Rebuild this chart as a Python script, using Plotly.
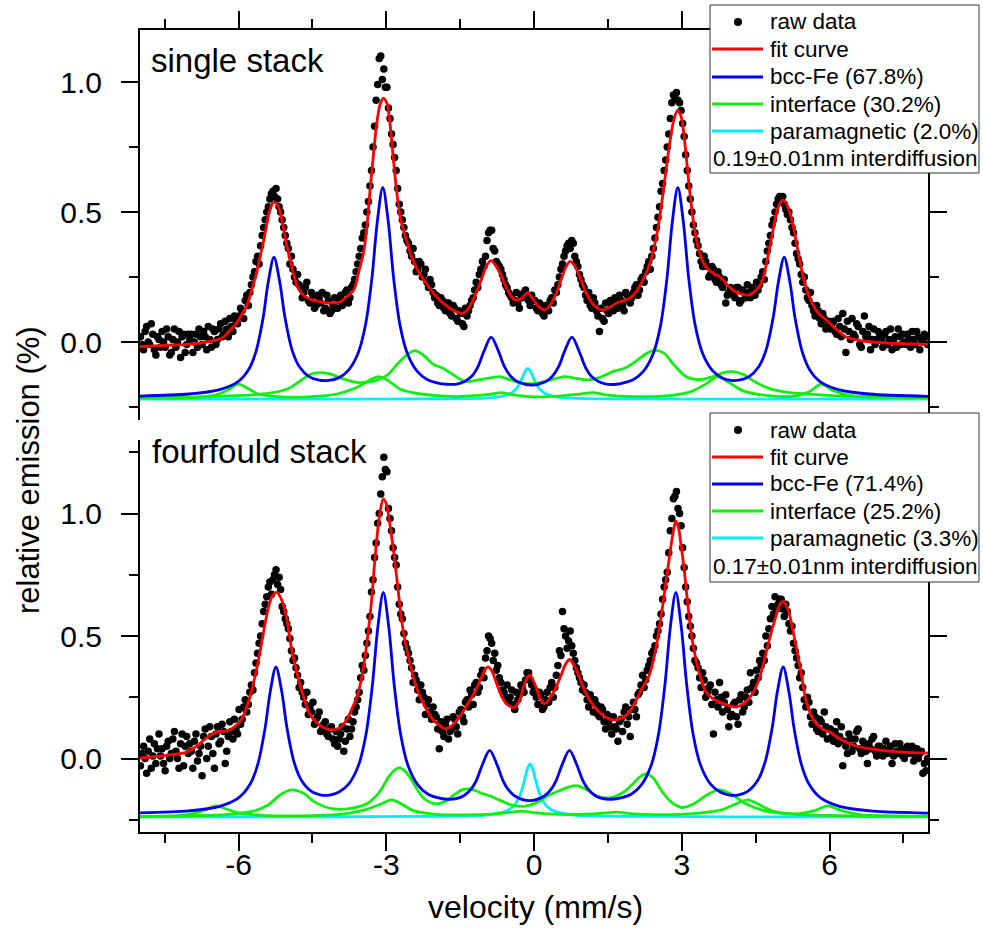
import numpy as np
import plotly.graph_objects as go

FONT = "Liberation Sans, Arial, sans-serif"

# ---------------- data ----------------
# velocity channels (equally spaced spectrometer channels)
n_channels = 512
velocity = np.linspace(-7.99, 7.99, n_channels)

raw_single = [
    0.02, -0.01, -0.03, 0.04, 0.06, 0.00, -0.01, 0.07, 0.03, -0.03, -0.05, 0.02, 0.01, -0.02, 0.04, 0.00,
    -0.02, 0.05, 0.02, -0.05, -0.04, 0.01, 0.05, -0.02, 0.00, 0.04, -0.06, 0.02, 0.03, -0.04, -0.01, 0.03,
    0.01, 0.03, -0.04, 0.00, 0.03, -0.02, 0.05, 0.02, -0.01, 0.04, 0.02, -0.03, 0.06, 0.01, -0.02, 0.05,
    0.04, -0.01, 0.01, 0.05, 0.07, 0.02, 0.03, 0.08, 0.05, 0.02, 0.09, 0.06, 0.04, 0.10, 0.08, 0.07,
    0.10, 0.13, 0.12, 0.09, 0.16, 0.18, 0.14, 0.19, 0.22, 0.25, 0.27, 0.31, 0.33, 0.30, 0.37, 0.41,
    0.44, 0.47, 0.50, 0.52, 0.55, 0.57, 0.58, 0.56, 0.59, 0.55, 0.52, 0.50, 0.47, 0.44, 0.41, 0.38,
    0.36, 0.30, 0.33, 0.28, 0.25, 0.23, 0.26, 0.22, 0.21, 0.17, 0.19, 0.21, 0.23, 0.16, 0.15, 0.19,
    0.18, 0.13, 0.14, 0.18, 0.17, 0.15, 0.19, 0.12, 0.13, 0.18, 0.16, 0.11, 0.12, 0.14, 0.17, 0.13,
    0.13, 0.16, 0.18, 0.14, 0.16, 0.19, 0.20, 0.15, 0.17, 0.21, 0.22, 0.24, 0.27, 0.30, 0.33, 0.36,
    0.40, 0.42, 0.45, 0.50, 0.54, 0.60, 0.66, 0.75, 0.83, 0.93, 0.99, 1.09, 1.10, 1.01, 1.05, 0.98,
    0.98, 0.90, 0.86, 0.80, 0.76, 0.71, 0.66, 0.59, 0.53, 0.50, 0.47, 0.44, 0.41, 0.39, 0.38, 0.35,
    0.33, 0.36, 0.31, 0.27, 0.28, 0.31, 0.30, 0.25, 0.26, 0.28, 0.23, 0.21, 0.24, 0.22, 0.19, 0.17,
    0.18, 0.15, 0.14, 0.17, 0.16, 0.13, 0.12, 0.15, 0.15, 0.11, 0.10, 0.14, 0.13, 0.09, 0.08, 0.12,
    0.11, 0.07, 0.06, 0.13, 0.10, 0.12, 0.14, 0.16, 0.17, 0.20, 0.23, 0.21, 0.26, 0.28, 0.31, 0.29,
    0.33, 0.39, 0.42, 0.43, 0.43, 0.36, 0.35, 0.31, 0.30, 0.29, 0.28, 0.26, 0.24, 0.22, 0.21, 0.19,
    0.18, 0.17, 0.15, 0.16, 0.19, 0.15, 0.13, 0.18, 0.17, 0.19, 0.20, 0.17, 0.16, 0.14, 0.18, 0.16,
    0.16, 0.13, 0.12, 0.15, 0.14, 0.11, 0.10, 0.14, 0.13, 0.12, 0.16, 0.17, 0.15, 0.20, 0.19, 0.22,
    0.25, 0.28, 0.30, 0.33, 0.35, 0.37, 0.38, 0.36, 0.39, 0.38, 0.33, 0.31, 0.29, 0.26, 0.24, 0.22,
    0.21, 0.18, 0.16, 0.19, 0.14, 0.13, 0.17, 0.15, 0.12, 0.10, 0.04, 0.13, 0.09, 0.08, 0.15, 0.12,
    0.11, 0.16, 0.14, 0.12, 0.17, 0.15, 0.13, 0.18, 0.16, 0.14, 0.12, 0.19, 0.18, 0.16, 0.15, 0.17,
    0.19, 0.21, 0.22, 0.18, 0.20, 0.24, 0.25, 0.23, 0.27, 0.29, 0.31, 0.28, 0.33, 0.36, 0.40, 0.44,
    0.48, 0.52, 0.58, 0.61, 0.66, 0.70, 0.75, 0.80, 0.86, 0.92, 0.95, 0.94, 0.96, 0.93, 0.92, 0.89,
    0.84, 0.79, 0.72, 0.66, 0.60, 0.55, 0.50, 0.45, 0.42, 0.39, 0.37, 0.34, 0.31, 0.29, 0.33, 0.31,
    0.29, 0.25, 0.26, 0.29, 0.28, 0.24, 0.23, 0.27, 0.25, 0.22, 0.21, 0.24, 0.15, 0.18, 0.19, 0.21,
    0.20, 0.18, 0.17, 0.21, 0.21, 0.15, 0.16, 0.20, 0.19, 0.17, 0.22, 0.19, 0.17, 0.21, 0.20, 0.18,
    0.23, 0.20, 0.22, 0.25, 0.27, 0.24, 0.31, 0.35, 0.38, 0.41, 0.45, 0.47, 0.50, 0.53, 0.55, 0.56,
    0.55, 0.56, 0.53, 0.51, 0.49, 0.50, 0.47, 0.44, 0.42, 0.38, 0.34, 0.32, 0.30, 0.26, 0.23, 0.25,
    0.20, 0.17, 0.16, 0.19, 0.14, 0.12, 0.10, 0.14, 0.12, 0.09, 0.07, 0.11, 0.09, 0.05, 0.06, 0.08,
    0.05, 0.07, 0.08, 0.04, 0.03, 0.09, 0.06, 0.02, 0.11, 0.05, -0.04, 0.08, 0.04, 0.01, 0.09, 0.03,
    0.02, 0.07, 0.06, -0.01, -0.02, 0.04, 0.10, 0.02, 0.03, 0.06, -0.03, 0.01, 0.05, -0.01, 0.01, 0.04,
    0.03, 0.01, -0.02, 0.03, 0.04, -0.01, 0.01, 0.05, -0.03, 0.00, 0.02, -0.02, 0.05, 0.02, -0.01, 0.03,
    0.00, -0.01, 0.03, 0.01, -0.02, 0.04, 0.01, -0.01, 0.04, 0.02, -0.03, 0.01, 0.00, 0.03, 0.02, -0.01,
]

raw_four = [
    -0.03, 0.02, 0.05, 0.00, -0.06, 0.03, 0.08, -0.04, 0.01, 0.06, -0.02, 0.04, 0.10, 0.01, 0.04, -0.02,
    -0.05, 0.05, 0.07, 0.00, 0.02, 0.08, 0.11, 0.03, 0.00, -0.04, 0.06, 0.10, -0.03, 0.05, 0.09, 0.02,
    0.06, 0.03, -0.04, 0.07, 0.10, -0.01, 0.02, 0.05, -0.07, 0.09, 0.12, 0.00, 0.05, 0.13, 0.09, 0.02,
    -0.04, 0.10, 0.13, 0.06, 0.07, 0.14, 0.11, -0.02, 0.03, 0.09, 0.15, 0.11, 0.08, 0.16, 0.12, 0.10,
    0.20, 0.14, 0.16, 0.21, 0.24, 0.19, 0.22, 0.27, 0.30, 0.28, 0.35, 0.39, 0.43, 0.47, 0.50, 0.55,
    0.60, 0.63, 0.66, 0.70, 0.72, 0.67, 0.73, 0.75, 0.77, 0.71, 0.74, 0.69, 0.62, 0.60, 0.57, 0.55,
    0.53, 0.49, 0.44, 0.40, 0.41, 0.37, 0.34, 0.29, 0.31, 0.27, 0.25, 0.22, 0.27, 0.18, 0.21, 0.19,
    0.23, 0.14, 0.16, 0.17, 0.19, 0.11, 0.12, 0.14, 0.15, 0.10, 0.09, 0.12, 0.13, 0.08, 0.06, 0.11,
    0.05, 0.08, 0.10, 0.13, 0.03, 0.07, 0.12, 0.16, 0.09, 0.12, 0.15, 0.19, 0.21, 0.24, 0.27, 0.33,
    0.38, 0.36, 0.42, 0.47, 0.52, 0.58, 0.68, 0.73, 0.82, 0.88, 0.96, 1.00, 1.08, 1.15, 1.23, 1.18,
    1.17, 1.02, 0.98, 0.93, 0.86, 0.82, 0.79, 0.70, 0.63, 0.59, 0.57, 0.51, 0.47, 0.45, 0.43, 0.40,
    0.37, 0.31, 0.34, 0.32, 0.28, 0.24, 0.30, 0.27, 0.25, 0.18, 0.22, 0.24, 0.19, 0.16, 0.21, 0.18,
    0.17, 0.12, 0.04, 0.15, 0.11, 0.09, 0.14, 0.16, 0.08, 0.11, 0.12, 0.17, 0.16, 0.13, 0.10, 0.19,
    0.20, 0.17, 0.15, 0.23, 0.24, 0.21, 0.28, 0.26, 0.22, 0.30, 0.31, 0.27, 0.29, 0.34, 0.36, 0.33,
    0.41, 0.44, 0.50, 0.49, 0.47, 0.40, 0.43, 0.36, 0.38, 0.33, 0.31, 0.28, 0.27, 0.25, 0.30, 0.23,
    0.25, 0.28, 0.22, 0.20, 0.27, 0.24, 0.26, 0.30, 0.29, 0.27, 0.32, 0.35, 0.35, 0.32, 0.30, 0.27,
    0.28, 0.25, 0.22, 0.27, 0.26, 0.20, 0.21, 0.24, 0.27, 0.23, 0.29, 0.31, 0.25, 0.29, 0.34, 0.38,
    0.44, 0.42, 0.60, 0.53, 0.50, 0.45, 0.48, 0.52, 0.46, 0.43, 0.40, 0.37, 0.35, 0.33, 0.31, 0.28,
    0.30, 0.27, 0.24, 0.21, 0.26, 0.23, 0.19, 0.24, 0.22, 0.18, 0.17, 0.21, 0.20, 0.15, 0.12, 0.18,
    0.15, 0.13, 0.10, 0.17, 0.13, 0.12, 0.07, 0.15, 0.16, 0.11, 0.19, 0.21, 0.14, 0.17, 0.09, 0.20,
    0.23, 0.20, 0.17, 0.26, 0.27, 0.30, 0.34, 0.29, 0.32, 0.36, 0.38, 0.40, 0.43, 0.44, 0.46, 0.50,
    0.52, 0.55, 0.59, 0.65, 0.70, 0.73, 0.76, 0.84, 0.93, 0.98, 1.06, 1.07, 1.09, 1.02, 1.00, 0.95,
    0.86, 0.78, 0.70, 0.64, 0.58, 0.54, 0.50, 0.45, 0.40, 0.39, 0.37, 0.33, 0.29, 0.35, 0.32, 0.25,
    0.27, 0.29, 0.30, 0.22, 0.10, 0.27, 0.24, 0.21, 0.31, 0.25, 0.19, 0.23, 0.26, 0.20, 0.13, 0.17,
    0.18, 0.22, 0.23, 0.17, 0.14, 0.24, 0.26, 0.19, 0.21, 0.25, 0.28, 0.23, 0.35, 0.29, 0.31, 0.27,
    0.36, 0.33, 0.40, 0.38, 0.43, 0.40, 0.50, 0.46, 0.53, 0.57, 0.62, 0.59, 0.66, 0.61, 0.63, 0.65,
    0.65, 0.61, 0.58, 0.63, 0.60, 0.55, 0.52, 0.54, 0.47, 0.44, 0.41, 0.38, 0.33, 0.35, 0.29, 0.24,
    0.21, 0.25, 0.23, 0.17, 0.14, 0.19, 0.17, 0.12, 0.11, 0.16, 0.15, 0.10, 0.19, 0.13, 0.08, 0.12,
    0.12, 0.09, 0.07, 0.11, 0.15, 0.06, 0.09, 0.13, -0.03, 0.07, 0.05, 0.02, 0.10, 0.08, 0.03, 0.05,
    0.08, 0.11, 0.12, 0.04, 0.02, 0.07, 0.06, 0.03, -0.02, 0.06, 0.04, 0.08, 0.09, 0.03, 0.01, 0.05,
    0.05, 0.03, 0.01, 0.04, 0.07, 0.02, 0.03, 0.05, -0.02, 0.01, 0.06, 0.03, 0.02, 0.06, 0.04, 0.01,
    0.00, 0.03, 0.05, 0.02, 0.03, 0.05, -0.01, 0.01, 0.04, 0.00, 0.02, 0.03, -0.06, -0.02, -0.05, 0.00,
]

# --- single stack: fit curve
fit_single_x = [-8.0, -7.5, -7.0, -6.7, -6.5, -6.3, -6.17, -6.05, -5.95, -5.83, -5.7, -5.63, -5.56, -5.49, -5.43,
                -5.36, -5.29, -5.22, -5.15, -5.08, -5.02, -4.95, -4.88, -4.81, -4.71, -4.61, -4.48, -4.34, -4.15,
                -3.93, -3.8, -3.66, -3.56, -3.46, -3.39, -3.33, -3.27, -3.2, -3.13, -3.06, -2.99, -2.93, -2.86,
                -2.8, -2.73, -2.66, -2.59, -2.46, -2.33, -2.19, -2.05, -1.92, -1.78, -1.65, -1.52, -1.42, -1.33,
                -1.24, -1.14, -1.04, -0.96, -0.87, -0.79, -0.7, -0.6, -0.5, -0.4, -0.29, -0.2, -0.125, -0.05,
                0.02, 0.1, 0.21, 0.32, 0.45, 0.55, 0.64, 0.73, 0.82, 0.9, 0.98, 1.06, 1.2, 1.32, 1.42, 1.55,
                1.67, 1.8, 1.94, 2.08, 2.21, 2.33, 2.42, 2.5, 2.59, 2.68, 2.76, 2.84, 2.92, 2.99, 3.06, 3.15,
                3.24, 3.33, 3.45, 3.56, 3.66, 3.76, 3.9, 4.03, 4.2, 4.37, 4.5, 4.58, 4.64, 4.74, 4.84, 4.93,
                5.0, 5.05, 5.12, 5.18, 5.25, 5.33, 5.42, 5.5, 5.59, 5.7, 5.8, 5.93, 6.1, 6.33, 6.55, 6.8, 7.1,
                7.48, 8.0]
fit_single_y = [-0.018, -0.013, -0.008, -0.002, 0.005, 0.02, 0.046, 0.07, 0.1, 0.14, 0.22, 0.27, 0.33, 0.39, 0.45,
                0.51, 0.537, 0.53, 0.495, 0.43, 0.37, 0.315, 0.26, 0.215, 0.185, 0.17, 0.16, 0.155, 0.15,
                0.155, 0.175, 0.2, 0.27, 0.345, 0.45, 0.58, 0.7, 0.83, 0.91, 0.937, 0.92, 0.85, 0.713,
                0.6, 0.495, 0.435, 0.39, 0.315, 0.265, 0.226, 0.19, 0.162, 0.14, 0.123, 0.112, 0.112, 0.13,
                0.16, 0.205, 0.255, 0.295, 0.313, 0.298, 0.27, 0.225, 0.187, 0.163, 0.163, 0.178, 0.19, 0.172,
                0.155, 0.135, 0.123, 0.14, 0.187, 0.24, 0.285, 0.31, 0.295, 0.265, 0.225, 0.187, 0.145, 0.126,
                0.124, 0.135, 0.149, 0.158, 0.168, 0.195, 0.238, 0.29, 0.35, 0.42, 0.53, 0.66, 0.77, 0.855,
                0.892, 0.865, 0.77, 0.6, 0.46, 0.365, 0.3, 0.275, 0.262, 0.252, 0.225, 0.2, 0.185, 0.181,
                0.198, 0.215, 0.238, 0.32, 0.418, 0.5, 0.535, 0.546, 0.535, 0.505, 0.46, 0.38, 0.29, 0.225,
                0.174, 0.13, 0.105, 0.085, 0.055, 0.02, 0.008, 0.001, -0.003, -0.006, -0.009]

# --- single stack: bcc-Fe sextet
bcc_single_x = [-8.0, -7.0, -6.4, -6.0, -5.8, -5.65, -5.5, -5.4, -5.28, -5.16, -5.06, -4.91, -4.76, -4.56, -4.36,
                -4.17, -3.97, -3.77, -3.57, -3.42, -3.29, -3.18, -3.07, -2.96, -2.85, -2.72, -2.57, -2.37, -2.17,
                -1.97, -1.77, -1.57, -1.42, -1.27, -1.14, -1.02, -0.87, -0.72, -0.6, -0.47, -0.32, -0.05, 0.22,
                0.37, 0.5, 0.62, 0.77, 0.92, 1.04, 1.17, 1.32, 1.47, 1.67, 1.82, 2.02, 2.22, 2.42, 2.57, 2.7,
                2.81, 2.92, 3.03, 3.14, 3.27, 3.42, 3.62, 3.82, 4.0, 4.16, 4.36, 4.56, 4.71, 4.86, 4.96, 5.08,
                5.2, 5.3, 5.45, 5.6, 5.8, 6.2, 6.8, 8.0]
bcc_single_y = [-0.208, -0.2, -0.184, -0.151, -0.108, -0.04, 0.093, 0.226, 0.326, 0.228, 0.098, -0.032, -0.096,
                -0.134, -0.147, -0.148, -0.138, -0.109, -0.042, 0.067, 0.247, 0.466, 0.595, 0.464, 0.245, 0.064,
                -0.045, -0.113, -0.144, -0.157, -0.1625, -0.162, -0.153, -0.133, -0.0955, -0.0375, 0.019, -0.036,
                -0.095, -0.1325, -0.154, -0.1655, -0.154, -0.1325, -0.095, -0.036, 0.019, -0.0375, -0.0955,
                -0.133, -0.153, -0.162, -0.1625, -0.157, -0.144, -0.113, -0.045, 0.064, 0.245, 0.464, 0.595,
                0.466, 0.247, 0.067, -0.042, -0.109, -0.138, -0.148, -0.147, -0.134, -0.096, -0.032, 0.098,
                0.228, 0.326, 0.226, 0.093, -0.04, -0.108, -0.151, -0.184, -0.2, -0.209]

# --- single stack: interface components (two sub-spectra)
ifa_single_x = [-8.0, -7.0, -6.3, -5.7, -5.3, -5.0, -4.75, -4.55, -4.35, -4.15, -3.9, -3.6, -3.3, -3.0, -2.75,
                -2.55, -2.42, -2.25, -2.05, -1.85, -1.65, -1.4, -1.1, -0.85, -0.7, -0.5, -0.25, 0.0, 0.3, 0.62,
                0.85, 1.1, 1.35, 1.6, 1.85, 2.1, 2.3, 2.48, 2.65, 2.85, 3.1, 3.35, 3.6, 3.85, 4.03, 4.25, 4.5,
                4.8, 5.2, 5.8, 6.5, 7.3, 8.0]
ifa_single_y = [-0.214, -0.212, -0.208, -0.203, -0.195, -0.18, -0.15, -0.125, -0.118, -0.123, -0.14, -0.155,
                -0.152, -0.13, -0.08, -0.045, -0.033, -0.05, -0.085, -0.101, -0.125, -0.152, -0.145, -0.137,
                -0.133, -0.145, -0.158, -0.16, -0.148, -0.133, -0.14, -0.146, -0.135, -0.114, -0.1, -0.07,
                -0.042, -0.032, -0.045, -0.09, -0.135, -0.145, -0.135, -0.118, -0.114, -0.125, -0.155, -0.18,
                -0.195, -0.203, -0.209, -0.212, -0.214]
ifb_single_x = [-8.0, -6.8, -6.4, -6.2, -6.01, -5.8, -5.6, -5.2, -4.5, -4.0, -3.6, -3.35, -3.15, -2.95, -2.7,
                -2.3, -1.6, -1.1, -0.85, -0.67, -0.45, -0.1, 0.5, 0.95, 1.19, 1.45, 2.0, 2.8, 3.2, 3.5, 3.73,
                3.95, 4.25, 4.7, 5.3, 5.6, 5.83, 6.05, 6.4, 7.0, 8.0]
ifb_single_y = [-0.216, -0.212, -0.2, -0.183, -0.162, -0.18, -0.2, -0.21, -0.21, -0.2, -0.175, -0.148, -0.133,
                -0.15, -0.183, -0.2, -0.21, -0.205, -0.2, -0.195, -0.202, -0.21, -0.208, -0.2, -0.195, -0.203,
                -0.21, -0.205, -0.19, -0.16, -0.133, -0.155, -0.188, -0.205, -0.208, -0.19, -0.162, -0.185,
                -0.205, -0.212, -0.215]

# --- single stack: paramagnetic singlet
para_single_x = [-8.0, -4.125, -2.125, -1.325, -0.925, -0.625, -0.475, -0.375, -0.3, -0.225, -0.175, -0.125,
                 -0.075, -0.025, 0.05, 0.125, 0.225, 0.375, 0.675, 1.075, 1.875, 3.875, 8.0]
para_single_y = [-0.22, -0.22, -0.219, -0.218, -0.215, -0.208, -0.198, -0.183, -0.163, -0.132, -0.111, -0.102,
                 -0.111, -0.132, -0.163, -0.183, -0.198, -0.208, -0.215, -0.218, -0.219, -0.22, -0.22]

# --- fourfold stack: fit curve
fit_four_x = [-8.0, -7.5, -7.05, -6.85, -6.71, -6.55, -6.44, -6.3, -6.17, -6.05, -5.97, -5.87, -5.77, -5.67,
              -5.57, -5.48, -5.4, -5.31, -5.22, -5.14, -5.06, -4.99, -4.93, -4.85, -4.76, -4.66, -4.56, -4.43,
              -4.29, -4.08, -3.95, -3.81, -3.68, -3.6, -3.54, -3.45, -3.37, -3.3, -3.24, -3.18, -3.13, -3.06,
              -3.0, -2.93, -2.88, -2.83, -2.76, -2.69, -2.61, -2.52, -2.42, -2.31, -2.17, -2.04, -1.92, -1.81,
              -1.69, -1.57, -1.43, -1.3, -1.18, -1.07, -0.99, -0.93, -0.85, -0.76, -0.66, -0.56, -0.45, -0.37,
              -0.29, -0.2, -0.12, -0.08, -0.02, 0.04, 0.12, 0.21, 0.3, 0.38, 0.45, 0.55, 0.64, 0.72, 0.8, 0.92,
              1.02, 1.13, 1.27, 1.4, 1.55, 1.67, 1.8, 1.94, 2.08, 2.21, 2.32, 2.41, 2.51, 2.61, 2.7, 2.78,
              2.84, 2.88, 2.93, 2.98, 3.05, 3.12, 3.2, 3.29, 3.39, 3.49, 3.62, 3.76, 3.93, 4.1, 4.28, 4.44,
              4.58, 4.71, 4.81, 4.91, 4.98, 5.05, 5.12, 5.18, 5.26, 5.35, 5.44, 5.52, 5.62, 5.73, 5.86, 6.0,
              6.15, 6.33, 6.55, 6.8, 7.1, 7.48, 8.0]
fit_four_y = [0.002, 0.012, 0.026, 0.05, 0.074, 0.098, 0.108, 0.112, 0.117, 0.135, 0.15, 0.19, 0.251, 0.33,
              0.429, 0.53, 0.61, 0.665, 0.678, 0.655, 0.607, 0.535, 0.456, 0.38, 0.306, 0.24, 0.183, 0.15,
              0.128, 0.117, 0.125, 0.156, 0.21, 0.25, 0.292, 0.39, 0.511, 0.64, 0.79, 0.92, 1.0, 1.06,
              1.04, 0.96, 0.89, 0.811, 0.69, 0.566, 0.47, 0.388, 0.31, 0.251, 0.195, 0.156, 0.135, 0.122,
              0.13, 0.156, 0.195, 0.238, 0.28, 0.33, 0.365, 0.374, 0.355, 0.306, 0.255, 0.224, 0.21, 0.212,
              0.238, 0.3, 0.335, 0.34, 0.32, 0.292, 0.245, 0.224, 0.24, 0.265, 0.292, 0.34, 0.385, 0.404,
              0.385, 0.333, 0.28, 0.238, 0.2, 0.176, 0.16, 0.158, 0.167, 0.19, 0.24, 0.292, 0.33, 0.388,
              0.49, 0.62, 0.75, 0.866, 0.94, 0.969, 0.945, 0.88, 0.77, 0.634, 0.5, 0.402, 0.325, 0.272,
              0.245, 0.231, 0.218, 0.21, 0.228, 0.265, 0.33, 0.429, 0.51, 0.579, 0.625, 0.641, 0.625, 0.593,
              0.52, 0.429, 0.33, 0.238, 0.18, 0.142, 0.12, 0.108, 0.088, 0.067, 0.05, 0.04, 0.032, 0.026,
              0.022]

# --- fourfold stack: bcc-Fe sextet
bcc_four_x = [-8.0, -7.0, -6.4, -6.0, -5.76, -5.61, -5.46, -5.36, -5.24, -5.12, -5.02, -4.87, -4.72, -4.52, -4.32,
              -4.15, -3.96, -3.76, -3.56, -3.41, -3.28, -3.17, -3.06, -2.95, -2.84, -2.71, -2.56, -2.36, -2.16,
              -1.96, -1.76, -1.56, -1.41, -1.27, -1.17, -1.05, -0.9, -0.75, -0.63, -0.53, -0.39, -0.09, 0.21,
              0.35, 0.45, 0.57, 0.72, 0.87, 0.99, 1.09, 1.23, 1.38, 1.58, 1.78, 1.98, 2.18, 2.38, 2.53, 2.66,
              2.77, 2.88, 2.99, 3.1, 3.23, 3.38, 3.58, 3.78, 3.97, 4.14, 4.34, 4.54, 4.69, 4.84, 4.94, 5.06,
              5.18, 5.28, 5.43, 5.58, 5.82, 6.22, 6.82, 7.82, 8.0]
bcc_four_y = [-0.222, -0.2136, -0.1965, -0.161, -0.103, -0.025, 0.124, 0.2675, 0.3735, 0.271, 0.13, -0.016, -0.09,
              -0.134, -0.149, -0.1494, -0.137, -0.1035, -0.026, 0.1, 0.302, 0.537, 0.678, 0.539, 0.3035, 0.101,
              -0.0275, -0.108, -0.145, -0.16, -0.1664, -0.163, -0.15, -0.123, -0.089, -0.0265, 0.033, -0.026,
              -0.09, -0.125, -0.153, -0.172, -0.153, -0.125, -0.09, -0.026, 0.033, -0.0265, -0.089, -0.123,
              -0.15, -0.163, -0.1664, -0.16, -0.145, -0.108, -0.0275, 0.101, 0.3035, 0.539, 0.678, 0.537, 0.302,
              0.1, -0.026, -0.1035, -0.137, -0.1494, -0.149, -0.134, -0.09, -0.016, 0.13, 0.271, 0.3735, 0.2675,
              0.124, -0.025, -0.103, -0.161, -0.1965, -0.2136, -0.222, -0.223]

# --- fourfold stack: interface components
ifa_four_x = [-8.0, -7.0, -6.2, -5.7, -5.4, -5.15, -4.93, -4.7, -4.45, -4.1, -3.75, -3.4, -3.15, -2.95, -2.82,
              -2.73, -2.6, -2.45, -2.25, -2.0, -1.8, -1.6, -1.45, -1.34, -1.2, -1.05, -0.9, -0.7, -0.45, -0.2,
              0.05, 0.3, 0.52, 0.7, 0.86, 1.05, 1.3, 1.55, 1.8, 2.0, 2.15, 2.28, 2.42, 2.6, 2.8, 3.02, 3.25,
              3.5, 3.76, 4.0, 4.3, 4.7, 5.3, 6.2, 8.0]
ifa_four_y = [-0.236, -0.234, -0.228, -0.215, -0.19, -0.148, -0.128, -0.14, -0.178, -0.205, -0.205, -0.185,
              -0.14, -0.075, -0.045, -0.038, -0.055, -0.1, -0.16, -0.185, -0.175, -0.145, -0.127, -0.124, -0.13,
              -0.143, -0.152, -0.17, -0.19, -0.195, -0.18, -0.15, -0.131, -0.117, -0.111, -0.125, -0.155, -0.16,
              -0.14, -0.105, -0.075, -0.063, -0.08, -0.135, -0.18, -0.2, -0.185, -0.15, -0.128, -0.145, -0.185,
              -0.215, -0.228, -0.233, -0.236]
ifb_four_x = [-8.0, -7.2, -6.85, -6.65, -6.45, -6.25, -6.0, -5.5, -4.5, -3.8, -3.4, -3.1, -2.89, -2.7, -2.45,
              -2.0, -1.4, -0.8, -0.5, -0.25, 0.0, 0.5, 1.2, 1.45, 1.7, 1.95, 2.5, 3.3, 3.8, 4.1, 4.34, 4.55,
              4.85, 5.3, 5.7, 5.96, 6.2, 6.6, 7.3, 8.0]
ifb_four_y = [-0.237, -0.232, -0.222, -0.207, -0.193, -0.206, -0.222, -0.232, -0.233, -0.225, -0.208, -0.185,
              -0.169, -0.185, -0.213, -0.228, -0.23, -0.226, -0.22, -0.215, -0.221, -0.228, -0.226, -0.222,
              -0.219, -0.225, -0.229, -0.224, -0.21, -0.185, -0.169, -0.186, -0.215, -0.226, -0.213, -0.193,
              -0.21, -0.229, -0.234, -0.236]

# --- fourfold stack: paramagnetic singlet
para_four_x = [-8.0, -4.08, -2.08, -1.28, -0.88, -0.58, -0.43, -0.33, -0.255, -0.18, -0.13, -0.08, -0.03, 0.02,
               0.095, 0.17, 0.27, 0.42, 0.72, 1.12, 1.92, 3.92, 8.0]
para_four_y = [-0.238, -0.238, -0.236, -0.234, -0.229, -0.216, -0.197, -0.17, -0.133, -0.078, -0.039, -0.022,
               -0.039, -0.078, -0.133, -0.17, -0.197, -0.216, -0.229, -0.234, -0.236, -0.238, -0.238]

x_major = [-6, -3, 0, 3, 6]
x_minor = [-7.5, -4.5, -1.5, 1.5, 4.5, 7.5]
y_major = [0.0, 0.5, 1.0]
y_major_text = ["0.0", "0.5", "1.0"]
y_minor_single = [-0.25, 0.25, 0.75]
y_minor_four = [-0.25, 0.25, 0.75, 1.25]

labels_single = ["raw data", "fit curve", "bcc-Fe (67.8%)", "interface (30.2%)", "paramagnetic (2.0%)"]
labels_four = ["raw data", "fit curve", "bcc-Fe (71.4%)", "interface (25.2%)", "paramagnetic (3.3%)"]
note_single = "0.19±0.01nm interdiffusion"
note_four = "0.17±0.01nm interdiffusion"

# ---------------- styles ----------------
C_RED = "#ff0000"
C_BLUE = "#0000ee"
C_GREEN = "#11ee11"
C_CYAN = "#00eeff"
LW = 2.8
SM = 0.9

fig = go.Figure()


def add_panel(xa, ya, labels, raw, fx, fy, bx, by, ax_, ay_, bx2, by2, px, py):
    common = dict(xaxis=xa, yaxis=ya, showlegend=False)
    fig.add_trace(go.Scatter(x=px, y=py, mode="lines", name=labels[4],
                             line=dict(color=C_CYAN, width=LW, shape="spline", smoothing=SM), **common))
    fig.add_trace(go.Scatter(x=bx2, y=by2, mode="lines", name=labels[3],
                             line=dict(color=C_GREEN, width=LW, shape="spline", smoothing=SM), **common))
    fig.add_trace(go.Scatter(x=ax_, y=ay_, mode="lines", name=labels[3],
                             line=dict(color=C_GREEN, width=LW, shape="spline", smoothing=SM), **common))
    fig.add_trace(go.Scatter(x=bx, y=by, mode="lines", name=labels[2],
                             line=dict(color=C_BLUE, width=LW, shape="spline", smoothing=SM), **common))
    fig.add_trace(go.Scatter(x=velocity, y=raw, mode="markers", name=labels[0],
                             marker=dict(color="black", size=7.5, line=dict(width=0)), **common))
    fig.add_trace(go.Scatter(x=fx, y=fy, mode="lines", name=labels[1],
                             line=dict(color=C_RED, width=LW, shape="spline", smoothing=SM), **common))


add_panel("x", "y", labels_single, raw_single, fit_single_x, fit_single_y,
          bcc_single_x, bcc_single_y, ifa_single_x, ifa_single_y, ifb_single_x, ifb_single_y,
          para_single_x, para_single_y)
add_panel("x2", "y2", labels_four, raw_four, fit_four_x, fit_four_y,
          bcc_four_x, bcc_four_y, ifa_four_x, ifa_four_y, ifb_four_x, ifb_four_y,
          para_four_x, para_four_y)

W, H = 983, 947
L, R, T, B = 140, 55, 30, 115
plot_h = H - T - B


def py2paper(py):
    return (H - B - py) / plot_h


def px2paper(px):
    return (px - L) / (W - L - R)


tickfont = dict(family=FONT, size=30, color="black")
ax_common = dict(showline=True, linecolor="black", linewidth=2, ticks="outside", ticklen=17, tickwidth=2,
                 tickcolor="black", showgrid=False, zeroline=False, tickfont=tickfont)
minor_common = dict(ticks="outside", ticklen=9, tickwidth=2, tickcolor="black", showgrid=False)

fig.update_layout(
    width=W, height=H,
    margin=dict(l=L, r=R, t=T, b=B, autoexpand=False),
    paper_bgcolor="white", plot_bgcolor="white",
    font=dict(family=FONT, color="black"),
    showlegend=False,
    xaxis=dict(ax_common, range=[-8, 8], domain=[0, 1], anchor="y", side="top", tickvals=x_major,
               showticklabels=False, minor=dict(minor_common, tickvals=x_minor)),
    xaxis2=dict(ax_common, range=[-8, 8], domain=[0, 1], anchor="y2", side="bottom", tickvals=x_major,
                ticktext=[str(v) for v in x_major], ticklabelstandoff=-12,
                minor=dict(minor_common, tickvals=x_minor)),
    yaxis=dict(ax_common, range=[-0.3, 1.2], domain=[py2paper(420), 1.0], anchor="x", mirror="ticks",
               tickvals=y_major, ticktext=y_major_text, ticklabelstandoff=13,
               minor=dict(minor_common, tickvals=y_minor_single)),
    yaxis2=dict(ax_common, range=[-0.3, 1.3], domain=[0.0, py2paper(440)], anchor="x2", mirror="ticks",
                tickvals=y_major, ticktext=y_major_text, ticklabelstandoff=13,
                minor=dict(minor_common, tickvals=y_minor_four)),
)

# ---------------- legend boxes (drawn) ----------------
leg_font = dict(family=FONT, size=22.5, color="black")
sample_colors = [None, C_RED, C_BLUE, C_GREEN, C_CYAN]
for (top, bot, rows, labels, note, note_y) in [
    (5, 173, [22, 49, 77, 104, 131], labels_single, note_single, 158),
    (413, 582, [430, 457, 484, 511, 538], labels_four, note_four, 566),
]:
    fig.add_shape(type="rect", xref="paper", yref="paper", x0=px2paper(710), x1=px2paper(979),
                  y0=py2paper(bot), y1=py2paper(top), line=dict(color="#333333", width=1),
                  fillcolor="white", layer="above")
    for k, (yc, lab) in enumerate(zip(rows, labels)):
        if k == 0:
            fig.add_shape(type="circle", xref="paper", yref="paper", xsizemode="pixel", ysizemode="pixel",
                          xanchor=px2paper(738), yanchor=py2paper(yc), x0=-4, x1=4, y0=-4, y1=4,
                          fillcolor="black", line=dict(width=0), layer="above")
        else:
            fig.add_shape(type="line", xref="paper", yref="paper", x0=px2paper(712), x1=px2paper(763),
                          y0=py2paper(yc), y1=py2paper(yc), line=dict(color=sample_colors[k], width=3),
                          layer="above")
        fig.add_annotation(text=lab, xref="paper", yref="paper", x=px2paper(768), y=py2paper(yc),
                           xanchor="left", yanchor="middle", showarrow=False, font=leg_font)
    fig.add_annotation(text=note, xref="paper", yref="paper", x=px2paper(711), y=py2paper(note_y),
                       xanchor="left", yanchor="middle", showarrow=False, font=leg_font)

ann_font_big = dict(family=FONT, size=33, color="black")
fig.add_annotation(text="single stack", xref="paper", yref="paper", x=px2paper(149), y=py2paper(61),
                   xanchor="left", yanchor="middle", showarrow=False, font=ann_font_big)
fig.add_annotation(text="fourfould stack", xref="paper", yref="paper", x=px2paper(150), y=py2paper(451),
                   xanchor="left", yanchor="middle", showarrow=False, font=ann_font_big)
fig.add_annotation(text="relative emission (%)", xref="paper", yref="paper", x=px2paper(28), y=py2paper(470),
                   xanchor="center", yanchor="middle", textangle=-90, showarrow=False,
                   font=dict(family=FONT, size=31, color="black"))
fig.add_annotation(text="velocity (mm/s)", xref="paper", yref="paper", x=px2paper(535), y=py2paper(907),
                   xanchor="center", yanchor="middle", showarrow=False,
                   font=dict(family=FONT, size=32, color="black"))

fig.write_html("out.html")
